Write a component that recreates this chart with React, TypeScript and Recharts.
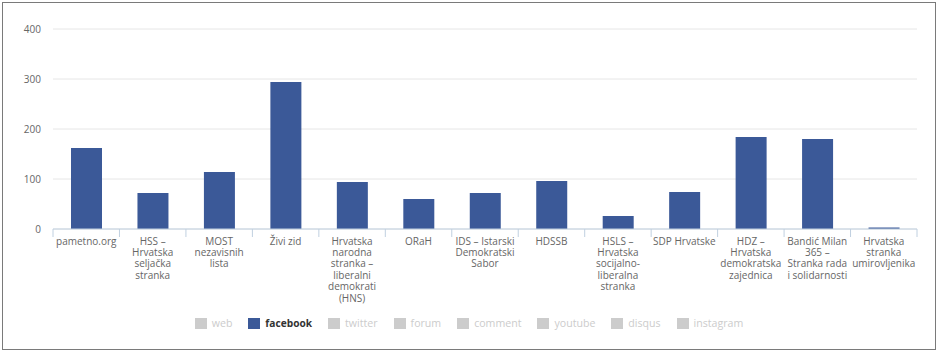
import React from 'react';
import { BarChart, Bar, XAxis, YAxis, CartesianGrid, Legend } from 'recharts';

const categories = [
  'pametno.org',
  'HSS –\nHrvatska\nseljačka\nstranka',
  'MOST\nnezavisnih\nlista',
  'Živi zid',
  'Hrvatska\nnarodna\nstranka –\nliberalni\ndemokrati\n(HNS)',
  'ORaH',
  'IDS – Istarski\nDemokratski\nSabor',
  'HDSSB',
  'HSLS –\nHrvatska\nsocijalno-\nliberalna\nstranka',
  'SDP Hrvatske',
  'HDZ –\nHrvatska\ndemokratska\nzajednica',
  'Bandić Milan\n365 –\nStranka rada\ni solidarnosti',
  'Hrvatska\nstranka\numirovljenika',
];

const facebookValues = [162, 72, 114, 294, 94, 60, 72, 96, 26, 74, 184, 180, 3];

const yTicks = [0, 100, 200, 300, 400];

const seriesNames = ['web', 'facebook', 'twitter', 'forum', 'comment', 'youtube', 'disqus', 'instagram'];
const activeSeries = 'facebook';

const data = categories.map((c, i) => ({ name: c, facebook: facebookValues[i] }));

const FONT = '"Open Sans", "DejaVu Sans", sans-serif';
const BLUE = '#3b5998';
const AXIS = '#c0d0e0';

const CategoryTick = (props: any) => {
  const { x, y, payload, index } = props;
  const half = payload && payload.offset ? payload.offset : 33.2;
  const lines = String(payload.value).split('\n');
  return (
    <g>
      <line x1={x - half} x2={x - half} y1={y} y2={y + 8} stroke={AXIS} strokeWidth={1} />
      {index === categories.length - 1 && (
        <line x1={x + half} x2={x + half} y1={y} y2={y + 8} stroke={AXIS} strokeWidth={1} />
      )}
      <text x={x} y={y + 15.5} textAnchor="middle" fill="#666" fontSize={10} fontFamily={FONT}>
        {lines.map((l, i) => (
          <tspan key={i} x={x} dy={i === 0 ? 0 : 11.4}>
            {l}
          </tspan>
        ))}
      </text>
    </g>
  );
};

const LegendContent = () => (
  <div
    style={{
      display: 'flex',
      justifyContent: 'center',
      alignItems: 'center',
      fontFamily: FONT,
      fontSize: 10.6,
      height: 20,
    }}
  >
    {seriesNames.map((s) => {
      const on = s === activeSeries;
      return (
        <div key={s} style={{ display: 'flex', alignItems: 'center', margin: '0 8px' }}>
          <div style={{ width: 12, height: 11, background: on ? BLUE : '#cccccc', marginRight: 5 }} />
          <span
            style={{
              color: on ? '#333' : '#cccccc',
              fontWeight: on ? 'bold' : 'normal',
              fontSize: on ? 10.2 : 10.6,
            }}
          >
            {s}
          </span>
        </div>
      );
    })}
  </div>
);

export default function App() {
  return (
    <div style={{ position: 'absolute', left: 0, top: 0, width: 938, height: 354, background: '#fff' }}>
      <div
        style={{
          position: 'absolute',
          left: 2,
          top: 2,
          width: 934,
          height: 348,
          border: '1px solid #7a7a7a',
          boxSizing: 'border-box',
        }}
      />
      <div style={{ position: 'absolute', left: 0, top: 0 }}>
        <BarChart width={938} height={354} data={data} margin={{ top: 29, right: 21, left: 0, bottom: 21 }}>
          <CartesianGrid vertical={false} stroke="#e6e6e6" />
          <XAxis
            dataKey="name"
            interval={0}
            height={84}
            tickLine={false}
            tickSize={0}
            tickMargin={0}
            stroke={AXIS}
            tick={<CategoryTick />}
          />
          <YAxis
            width={53}
            domain={[0, 400]}
            ticks={yTicks}
            axisLine={false}
            tickLine={false}
            tickMargin={6}
            tick={{ fill: '#666', fontSize: 10, fontFamily: FONT }}
          />
          <Legend
            verticalAlign="bottom"
            wrapperStyle={{ height: 20, width: 938, left: 0 }}
            content={<LegendContent />}
          />
          <Bar dataKey="facebook" fill={BLUE} barSize={31} isAnimationActive={false} />
        </BarChart>
      </div>
    </div>
  );
}
